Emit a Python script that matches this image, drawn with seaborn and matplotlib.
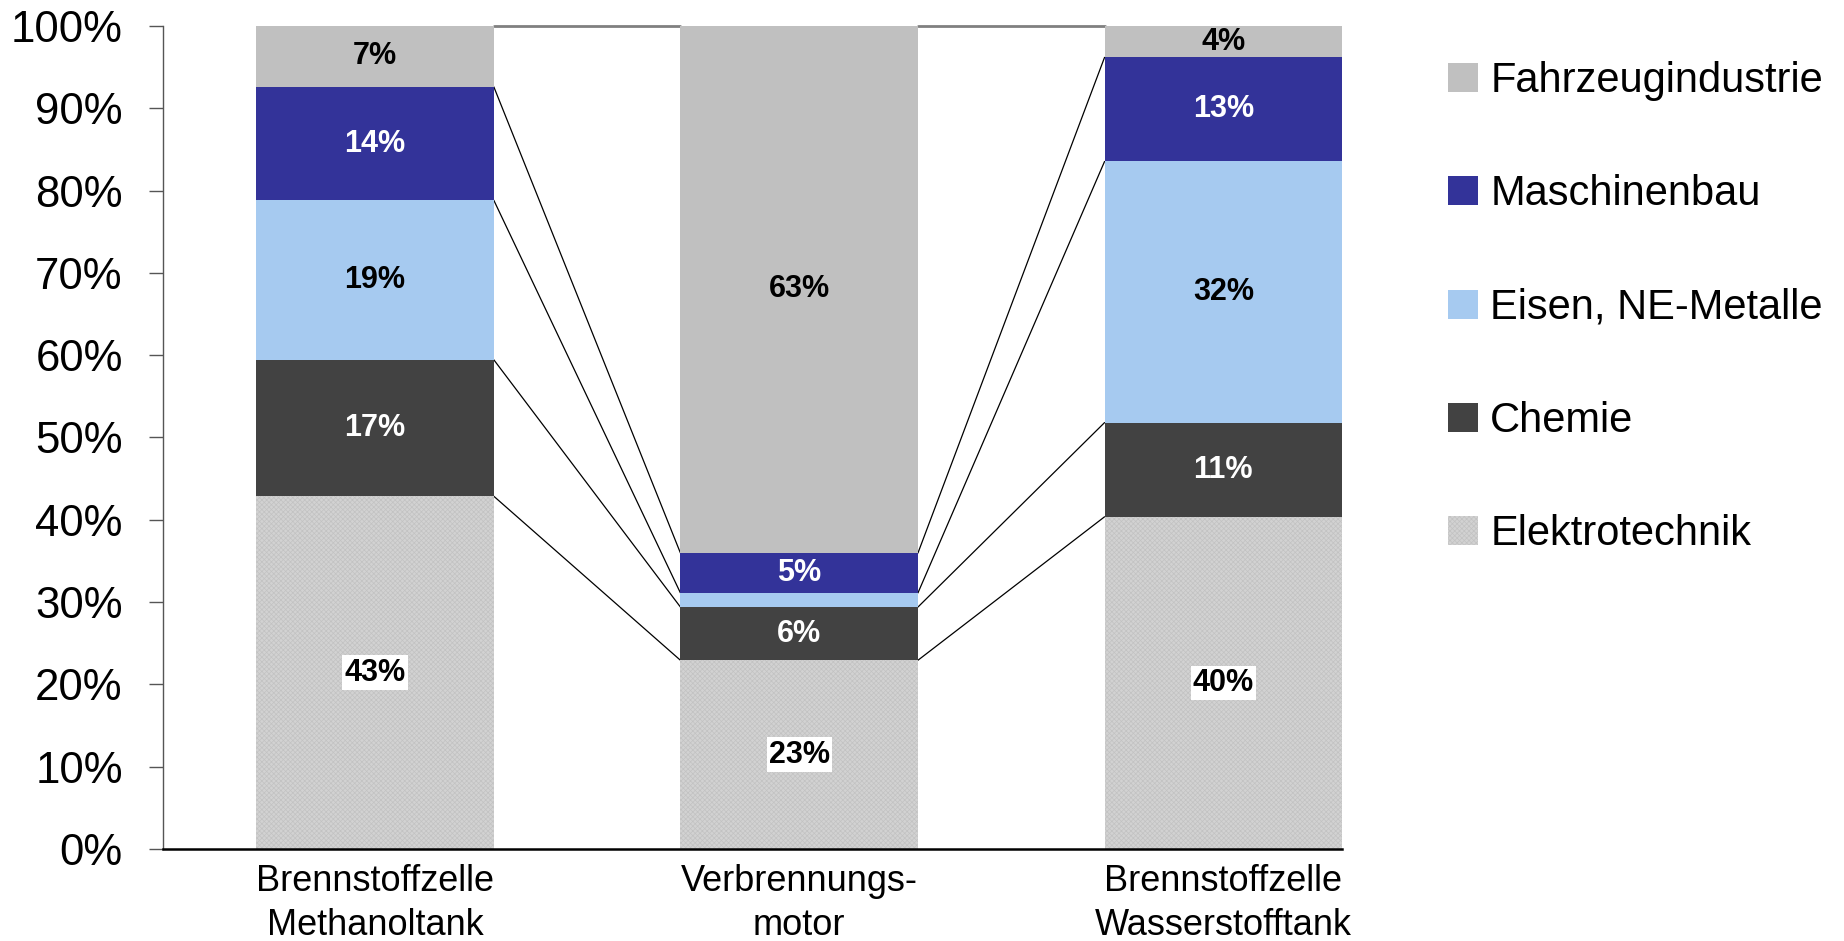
import numpy as np
import pandas as pd
import matplotlib.pyplot as plt
import matplotlib.patches as mpatches
import seaborn as sns

# Anteile der Branchen an der Wertschöpfung je Antriebskonzept (in %)
antriebe = ["Brennstoffzelle\nMethanoltank", "Verbrennungs-\nmotor", "Brennstoffzelle\nWasserstofftank"]
branchen = ["Elektrotechnik", "Chemie", "Eisen, NE-Metalle", "Maschinenbau", "Fahrzeugindustrie"]
elektrotechnik = [42.9, 22.7, 40.2]
chemie = [16.6, 6.4, 11.4]
eisen_ne = [19.4, 1.7, 31.6]
maschinenbau = [13.8, 4.8, 12.6]
fahrzeug = [7.4, 63.4, 3.8]

farben = ["#d2d2d2", "#424242", "#a6caf0", "#333399", "#c0c0c0"]
textfarben = ["black", "white", "black", "white", "black"]

sns.set_theme(style="white")
plt.rcParams["font.family"] = ["Liberation Sans", "DejaVu Sans"]
plt.rcParams["hatch.linewidth"] = 0.5
plt.rcParams["text.color"] = "black"
plt.rcParams["xtick.color"] = "black"
plt.rcParams["ytick.color"] = "black"

df = pd.DataFrame({"Antrieb": antriebe, "Elektrotechnik": elektrotechnik, "Chemie": chemie,
                   "Eisen, NE-Metalle": eisen_ne, "Maschinenbau": maschinenbau,
                   "Fahrzeugindustrie": fahrzeug})
# 100%-Stapel: auf Summe normieren
anteile = df[branchen].div(df[branchen].sum(axis=1), axis=0) * 100
oben = anteile.cumsum(axis=1)
unten = oben - anteile

fig = plt.figure(figsize=(18.44, 9.41), dpi=100)
ax = fig.add_axes([0.0884, 0.0978, 0.6394, 0.8746])
breite = 0.56
for i, b in enumerate(branchen):
    sns.barplot(x=df["Antrieb"], y=anteile[b], bottom=unten[b].values, order=antriebe,
                color=farben[i], saturation=1, width=breite, linewidth=0,
                errorbar=None, ax=ax)

for p in ax.containers[0]:
    p.set_hatch("xxxxxxx")
    p.set_edgecolor("#c2c2c2")

for i, cont in enumerate(ax.containers):
    werte = df[branchen[i]]
    labels = [f"{v:.0f}%" if v >= 3 else "" for v in werte]
    kw = dict(label_type="center", color=textfarben[i], fontsize=22, fontweight="bold")
    if i == 0:
        kw["bbox"] = dict(facecolor="white", edgecolor="none", pad=1.5)
    ax.bar_label(cont, labels=labels, **kw)

# Verbindungslinien zwischen den Säulen
for j in range(len(antriebe) - 1):
    for b in branchen:
        farbe = "#808080" if b == "Fahrzeugindustrie" else "black"
        lw = 2 if b == "Fahrzeugindustrie" else 0.9
        ax.plot([j + breite / 2, j + 1 - breite / 2], [oben.loc[j, b], oben.loc[j + 1, b]],
                color=farbe, lw=lw, zorder=0.5, clip_on=False)

ax.set_xlim(-0.5, 2 + breite / 2)
ax.set_ylim(0, 100)
ax.set_yticks(np.arange(0, 101, 10))
ax.set_yticklabels([f"{t}%" for t in range(0, 101, 10)])
ax.set_xlabel("")
ax.set_ylabel("")
sns.despine(ax=ax)
ax.spines["left"].set_color("#555555")
ax.spines["left"].set_linewidth(1)
ax.spines["bottom"].set_color("black")
ax.spines["bottom"].set_linewidth(1.8)
ax.tick_params(axis="y", left=True, direction="out", length=10, width=1, color="#555555",
               labelcolor="black", pad=19, labelsize=31.5)
ax.tick_params(axis="x", bottom=False, length=0, labelcolor="black", labelsize=26, pad=11)
for t in ax.get_xticklabels():
    t.set_linespacing(1.33)

handles = []
for i in reversed(range(len(branchen))):
    if i == 0:
        handles.append(mpatches.Patch(facecolor=farben[i], hatch="xxxxxxx", edgecolor="#c2c2c2",
                                      linewidth=0, label=branchen[i]))
    else:
        handles.append(mpatches.Patch(facecolor=farben[i], linewidth=0, label=branchen[i]))
leg = fig.legend(handles=handles, loc="upper left", bbox_to_anchor=(0.7855, 0.935), frameon=False,
                 fontsize=30, handlelength=0.7, handleheight=0.7, handletextpad=0.3,
                 labelspacing=1.76, borderpad=0, borderaxespad=0)
for t in leg.get_texts():
    t.set_color("black")

fig.savefig("out.png", dpi=100)
